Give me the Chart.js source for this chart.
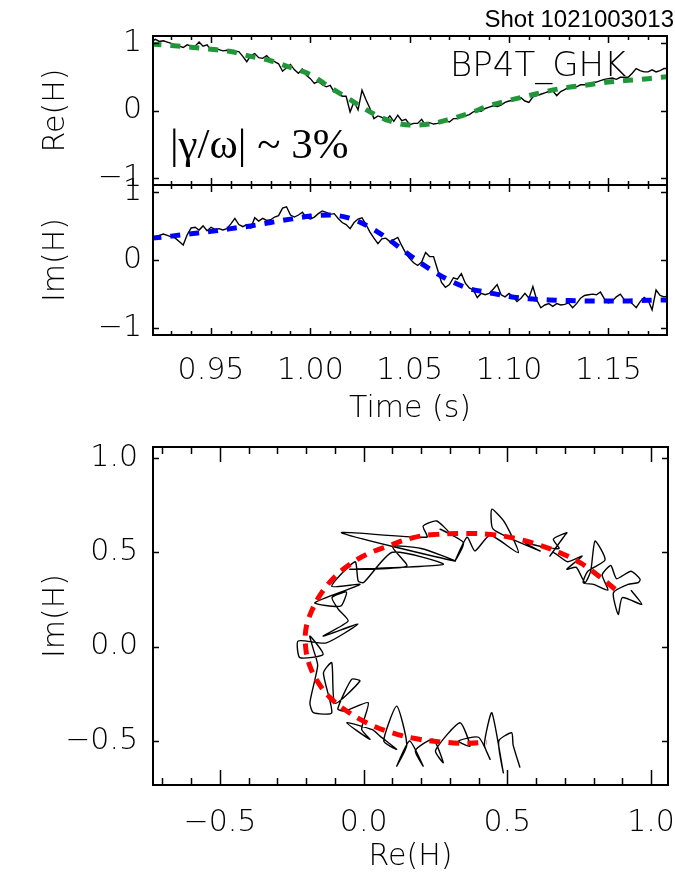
<!DOCTYPE html>
<html>
<head>
<meta charset="utf-8">
<title>Shot 1021003013</title>
<script src="https://cdn.jsdelivr.net/npm/chart.js@4.4.1/dist/chart.umd.min.js"></script>
<style>
  html, body { margin: 0; padding: 0; background: #fff; }
  #wrap { position: relative; width: 675px; height: 881px; }
  #wrap canvas { position: absolute; left: 0; top: 0; }
</style>
</head>
<body>
<div id="wrap">
  <canvas id="reChart" width="675" height="881"></canvas>
  <canvas id="imChart" width="675" height="881"></canvas>
  <canvas id="loopChart" width="675" height="881"></canvas>
</div>
<script>
// raw signal, sampled every 2 ms from 0.92 s
const tStart = 0.92;
const tStep = 0.002;
const reRaw = [
  1.02, 1.05, 1.02, 1.03, 1.01, 0.99, 0.97, 0.95, 0.93, 0.97,
  0.95, 0.95, 1.01, 0.95, 0.97, 0.89, 0.92, 0.90, 0.88, 0.89,
  0.88, 0.87, 0.87, 0.80, 0.72, 0.81, 0.84, 0.78, 0.77, 0.81,
  0.75, 0.72, 0.69, 0.58, 0.63, 0.68, 0.60, 0.55, 0.61, 0.52,
  0.47, 0.40, 0.43, 0.38, 0.35, 0.37, 0.27, 0.28, 0.21, 0.21,
  -0.02, 0.13, 0.01, 0.30, 0.16, 0.03, -0.12, -0.08, -0.10, -0.15,
  -0.08, -0.16, -0.07, -0.15, -0.13, -0.21, -0.19, -0.19, -0.13, -0.22,
  -0.18, -0.20, -0.19, -0.17, -0.15, -0.17, -0.12, -0.12, -0.09, -0.08,
  -0.06, -0.02, -0.01, -0.01, 0.03, 0.05, 0.07, 0.06, 0.08, 0.12,
  0.14, 0.15, 0.18, 0.19, 0.14, 0.12, 0.20, 0.22, 0.24, 0.26,
  0.28, 0.29, 0.22, 0.28, 0.31, 0.34, 0.37, 0.35, 0.38, 0.38,
  0.39, 0.41, 0.42, 0.44, 0.46, 0.47, 0.48, 0.46, 0.49, 0.49,
  0.49, 0.55, 0.62, 0.59, 0.57, 0.57, 0.60, 0.57, 0.59, 0.62,
  0.62
];
const imRaw = [
  0.27, 0.33, 0.36, 0.38, 0.36, 0.34, 0.32, 0.27, 0.22, 0.37,
  0.47, 0.48, 0.44, 0.50, 0.43, 0.48, 0.45, 0.46, 0.44, 0.46,
  0.53, 0.61, 0.52, 0.49, 0.52, 0.47, 0.62, 0.57, 0.61, 0.58,
  0.59, 0.63, 0.65, 0.76, 0.78, 0.66, 0.63, 0.66, 0.70, 0.62,
  0.60, 0.63, 0.68, 0.72, 0.70, 0.67, 0.68, 0.61, 0.55, 0.52,
  0.46, 0.55, 0.60, 0.62, 0.52, 0.41, 0.32, 0.24, 0.31, 0.32,
  0.27, 0.30, 0.33, 0.21, 0.10, 0.02, -0.04, -0.08, -0.03, 0.11,
  0.05, 0.05, -0.14, -0.33, -0.40, -0.36, -0.26, -0.28, -0.20, -0.34,
  -0.41, -0.44, -0.55, -0.49, -0.51, -0.49, -0.43, -0.36, -0.51, -0.54,
  -0.49, -0.54, -0.61, -0.56, -0.49, -0.56, -0.39, -0.59, -0.70, -0.66,
  -0.64, -0.68, -0.64, -0.66, -0.65, -0.63, -0.70, -0.64, -0.56, -0.52,
  -0.51, -0.50, -0.51, -0.47, -0.57, -0.63, -0.60, -0.54, -0.50, -0.58,
  -0.59, -0.64, -0.70, -0.61, -0.55, -0.59, -0.73, -0.44, -0.52, -0.54,
  -0.53
];

// damped-mode fit, every 10 ms
const fitTimes = [
  0.92, 0.93, 0.94, 0.95, 0.96, 0.97, 0.98, 0.99, 1.00, 1.01,
  1.02, 1.03, 1.04, 1.05, 1.06, 1.07, 1.08, 1.09, 1.10, 1.11,
  1.12, 1.13, 1.14, 1.15, 1.16, 1.17, 1.18
];
const reFit = [
  0.98, 0.96, 0.935, 0.905, 0.87, 0.80, 0.735, 0.635, 0.53, 0.34,
  0.16, -0.02, -0.155, -0.215, -0.20, -0.13, -0.04, 0.07, 0.15, 0.22,
  0.29, 0.343, 0.38, 0.42, 0.445, 0.47, 0.50
];
const imFit = [
  0.32, 0.35, 0.385, 0.42, 0.46, 0.50, 0.55, 0.60, 0.645, 0.66,
  0.61, 0.48, 0.29, 0.07, -0.13, -0.30, -0.42, -0.48, -0.535, -0.57,
  -0.585, -0.595, -0.60, -0.60, -0.60, -0.59, -0.585
];

// complex-plane trace as drawn in the lower panel
const planeRe = [
  0.93, 0.968, 0.90, 0.886, 0.869, 0.92, 0.956, 0.962, 0.93, 0.88,
  0.86, 0.83, 0.85, 0.80, 0.764, 0.78, 0.84, 0.805, 0.79, 0.77,
  0.74, 0.707, 0.76, 0.71, 0.66, 0.648, 0.70, 0.707, 0.66, 0.68,
  0.62, 0.56, 0.614, 0.451, 0.446, 0.49, 0.538, 0.44, 0.387, 0.36,
  0.318, 0.347, 0.266, 0.30, 0.254, 0.207, 0.22, -0.077, 0.318, 0.20,
  0.10, 0.15, -0.048, 0.277, 0.10, 0.0, -0.019, -0.03, -0.111, -0.013,
  -0.17, -0.08, -0.06, -0.11, -0.088, -0.054, -0.141, -0.02, -0.13, -0.228,
  -0.222, -0.141, -0.187, -0.175, -0.16, -0.187, -0.175, -0.111, -0.14, -0.111,
  -0.10, -0.013, -0.042, -0.09, -0.065, 0.016, -0.007, 0.022, -0.059, 0.03,
  0.057, 0.115, 0.07, 0.115, 0.15, 0.115, 0.16, 0.207, 0.18, 0.242,
  0.277, 0.25, 0.335, 0.37, 0.33, 0.40, 0.44, 0.42, 0.446, 0.486,
  0.47, 0.515, 0.52, 0.544
];
const planeIm = [
  0.30, 0.224, 0.26, 0.171, 0.286, 0.33, 0.34, 0.357, 0.40, 0.36,
  0.43, 0.38, 0.30, 0.33, 0.339, 0.40, 0.46, 0.56, 0.40, 0.34,
  0.42, 0.41, 0.48, 0.45, 0.50, 0.48, 0.59, 0.604, 0.569, 0.52,
  0.53, 0.55, 0.507, 0.622, 0.728, 0.66, 0.498, 0.59, 0.507, 0.58,
  0.454, 0.551, 0.622, 0.60, 0.666, 0.639, 0.58, 0.604, 0.454, 0.52,
  0.53, 0.427, 0.41, 0.436, 0.50, 0.34, 0.348, 0.45, 0.32, 0.33,
  0.233, 0.215, 0.29, 0.26, 0.198, 0.136, 0.056, 0.12, 0.02, 0.03,
  -0.058, -0.041, 0.056, -0.014, -0.10, -0.297, -0.35, -0.35, -0.14, -0.085,
  -0.30, -0.182, -0.173, -0.33, -0.341, -0.297, -0.438, -0.491, -0.403, -0.44,
  -0.474, -0.544, -0.50, -0.315, -0.52, -0.633, -0.50, -0.633, -0.55, -0.491,
  -0.615, -0.55, -0.403, -0.527, -0.50, -0.48, -0.597, -0.52, -0.35, -0.668,
  -0.50, -0.456, -0.52, -0.641
];

// fit path in the complex plane (lower panel)
const loopRe = [
  0.875, 0.811, 0.753, 0.683, 0.614, 0.533, 0.440, 0.347, 0.254, 0.173,
  0.092, 0.010, -0.048, -0.100, -0.146, -0.181, -0.201, -0.201, -0.187, -0.158,
  -0.117, -0.059, 0.010, 0.092, 0.184, 0.277, 0.359, 0.428
];
const loopIm = [
  0.304, 0.383, 0.445, 0.498, 0.537, 0.572, 0.595, 0.600, 0.595, 0.578,
  0.537, 0.489, 0.436, 0.371, 0.286, 0.189, 0.092, -0.014, -0.103, -0.191,
  -0.270, -0.341, -0.403, -0.453, -0.488, -0.506, -0.512, -0.506
];

const timeTicks = [0.95, 1.00, 1.05, 1.10, 1.15];
const unitTicks = [-1, 0, 1];
const loopTicks = [-0.5, 0.0, 0.5, 1.0];

const rawTimes = reRaw.map((_, i) => tStart + i * tStep);

const FONT = "'DejaVu Sans Light', 'DejaVu Sans', sans-serif";
const tickFont = { family: FONT, size: 30, weight: '200' };
const minus = s => s.replace('-', '\u2212');

// box + inward tick marks on all four sides
const framePlugin = {
  id: 'frame',
  afterDatasetsDraw(chart, args, opts) {
    const { ctx, chartArea: a, scales: { x, y } } = chart;
    ctx.save();
    ctx.strokeStyle = '#000';
    ctx.lineWidth = 1.5;
    ctx.beginPath();
    const xTick = (v, len) => {
      const px = Math.round(x.getPixelForValue(v)) + 0.5;
      ctx.moveTo(px, a.bottom); ctx.lineTo(px, a.bottom - len);
      ctx.moveTo(px, a.top); ctx.lineTo(px, a.top + len);
    };
    const yTick = (v, len) => {
      const py = Math.round(y.getPixelForValue(v)) + 0.5;
      ctx.moveTo(a.left, py); ctx.lineTo(a.left + len, py);
      ctx.moveTo(a.right, py); ctx.lineTo(a.right - len, py);
    };
    if (opts.xMinor) {
      for (let i = Math.ceil(x.min / opts.xMinor - 1e-6); i * opts.xMinor <= x.max + 1e-9; i++) {
        xTick(i * opts.xMinor, opts.xMinorLen);
      }
    }
    x.ticks.forEach(t => xTick(t.value, opts.xMajorLen));
    y.ticks.forEach(t => yTick(t.value, opts.yLen));
    ctx.stroke();
    ctx.lineWidth = 2;
    ctx.strokeRect(a.left, a.top, a.width, a.height);
    ctx.restore();
  }
};

// free text on the top panel
const labelsPlugin = {
  id: 'labels',
  afterDraw(chart) {
    const ctx = chart.ctx;
    ctx.save();
    ctx.fillStyle = '#000';
    ctx.textBaseline = 'alphabetic';
    ctx.textAlign = 'right';
    ctx.font = "24px 'Liberation Sans', Arial, sans-serif";
    ctx.fillText('Shot 1021003013', 674, 27);
    ctx.textAlign = 'left';
    ctx.font = "200 34px " + FONT;
    ctx.fillText('BP4T_GHK', 450, 76);
    ctx.font = "43px 'Liberation Serif', 'DejaVu Serif', serif";
    ctx.fillText('|\u03b3/\u03c9| ~ 3%', 170, 158);
    ctx.restore();
  }
};

function fixWidth(w) {
  return s => { s.width = w; s.paddingTop = 0; s.paddingBottom = 0; };
}
function fixHeight(h) {
  return s => { s.height = h; s.paddingLeft = 0; s.paddingRight = 0; };
}
function setTicks(list) {
  return s => { s.ticks = list.map(v => ({ value: v })); };
}

function timeChart(id, raw, fit, color, yTitle, top, bottom, showTime) {
  const xAxisH = showTime ? 100 : 0;
  return new Chart(document.getElementById(id), {
    type: 'line',
    data: {
      datasets: [
        {
          data: fitTimes.map((t, i) => ({ x: t, y: fit[i] })),
          borderColor: color,
          borderWidth: 5,
          borderDash: [10, 9],
          cubicInterpolationMode: 'monotone',
          pointRadius: 0
        },
        {
          data: rawTimes.map((t, i) => ({ x: t, y: raw[i] })),
          borderColor: '#000',
          borderWidth: 1.4,
          tension: 0,
          pointRadius: 0
        }
      ]
    },
    options: {
      responsive: false,
      animation: false,
      devicePixelRatio: 1,
      events: [],
      layout: { padding: { left: 0, right: 8, top: top, bottom: 881 - bottom - xAxisH } },
      plugins: { legend: { display: false }, tooltip: { enabled: false },
        frame: { xMinor: 0.01, xMajorLen: 7, xMinorLen: 4, yLen: 6 } },
      scales: {
        x: {
          type: 'linear', min: 0.9208, max: 1.1795,
          afterBuildTicks: setTicks(timeTicks),
          afterFit: fixHeight(xAxisH),
          grid: { display: false, drawTicks: false },
          border: { display: false },
          ticks: { display: showTime, font: tickFont, color: '#000', padding: 18.5,
            maxRotation: 0, autoSkip: false, callback: v => v.toFixed(2) },
          title: { display: showTime, text: 'Time (s)', font: tickFont, color: '#000',
            padding: { top: 0, bottom: 8 } }
        },
        y: {
          min: -1.1, max: 1.1,
          afterBuildTicks: setTicks(unitTicks),
          afterFit: fixWidth(153),
          grid: { display: false, drawTicks: false },
          border: { display: false },
          ticks: { font: tickFont, color: '#000', padding: 11, callback: v => minus(String(v)) },
          title: { display: true, text: yTitle, font: tickFont, color: '#000',
            padding: { top: 38.5, bottom: 0 } }
        }
      }
    },
    plugins: showTime ? [framePlugin] : [framePlugin, labelsPlugin]
  });
}

timeChart('reChart', reRaw, reFit, '#22973a', 'Re(H)', 36, 185, false);
timeChart('imChart', imRaw, imFit, '#0000ff', 'Im(H)', 185, 335, true);

new Chart(document.getElementById('loopChart'), {
  type: 'scatter',
  data: {
    datasets: [
      {
        data: loopRe.map((v, i) => ({ x: v, y: loopIm[i] })),
        showLine: true,
        borderColor: '#ff0000',
        borderWidth: 5,
        borderDash: [11, 8],
        tension: 0.4,
        pointRadius: 0
      },
      {
        data: planeRe.map((v, i) => ({ x: v, y: planeIm[i] })),
        showLine: true,
        borderColor: '#000',
        borderWidth: 1.4,
        tension: 0.2,
        pointRadius: 0
      }
    ]
  },
  options: {
    responsive: false,
    animation: false,
    devicePixelRatio: 1,
    events: [],
    layout: { padding: { left: 0, right: 7, top: 447, bottom: 0 } },
    plugins: { legend: { display: false }, tooltip: { enabled: false },
      frame: { xMinor: 0.1, xMajorLen: 15, xMinorLen: 7, yLen: 6 } },
    scales: {
      x: {
        type: 'linear', min: -0.733, max: 1.059,
        afterBuildTicks: setTicks(loopTicks),
        afterFit: fixHeight(96),
        grid: { display: false, drawTicks: false },
        border: { display: false },
        ticks: { font: tickFont, color: '#000', padding: 20, maxRotation: 0, autoSkip: false,
          callback: v => minus(v.toFixed(1)) },
        title: { display: true, text: 'Re(H)', font: tickFont, color: '#000',
          padding: { top: 0, bottom: 6 } }
      },
      y: {
        min: -0.733, max: 1.058,
        afterBuildTicks: setTicks(loopTicks),
        afterFit: fixWidth(153),
        grid: { display: false, drawTicks: false },
        border: { display: false },
        ticks: { font: tickFont, color: '#000', padding: 15, callback: v => minus(v.toFixed(1)) },
        title: { display: true, text: 'Im(H)', font: tickFont, color: '#000',
          padding: { top: 38.5, bottom: 0 } }
      }
    }
  },
  plugins: [framePlugin]
});
</script>
</body>
</html>
